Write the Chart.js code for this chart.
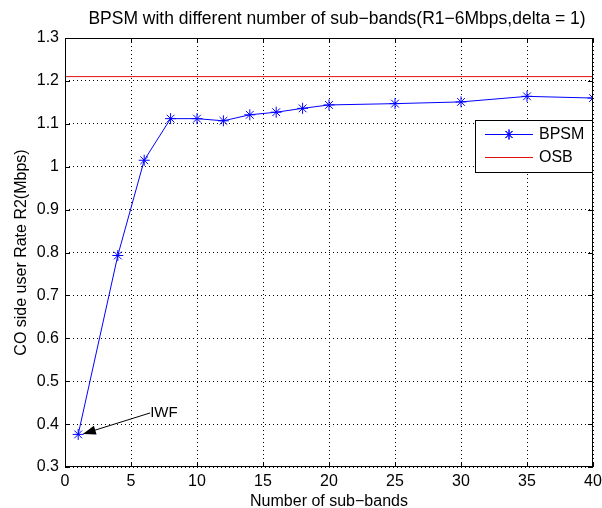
<!DOCTYPE html>
<html>
<head>
<meta charset="utf-8">
<script src="https://cdn.jsdelivr.net/npm/chart.js@4/dist/chart.umd.min.js"></script>
<style>
  html, body { margin: 0; padding: 0; background: #fff; }
  #wrap { width: 602px; height: 508px; }
</style>
</head>
<body>
<div id="wrap"><canvas id="rate-chart" width="602" height="508"></canvas></div>
<script>
const subBands = [1, 4, 6, 8, 10, 12, 14, 16, 18, 20, 25, 30, 35, 40];
const bpsmRate = [0.376, 0.793, 1.015, 1.112, 1.112, 1.107, 1.121, 1.127, 1.136, 1.144, 1.147, 1.151, 1.164, 1.160];
const osbX = [0, 40];
const osbRate = [1.21, 1.21];
const xTicks = [0, 5, 10, 15, 20, 25, 30, 35, 40];
const yTicks = [0.3, 0.4, 0.5, 0.6, 0.7, 0.8, 0.9, 1, 1.1, 1.2, 1.3];

const FONT = '"Liberation Sans", Arial, Helvetica, sans-serif';
Chart.defaults.font.family = FONT;
Chart.defaults.color = '#000';

// matlab style frame, inner ticks, title, legend and the IWF arrow
const matlabPlugin = {
    id: 'matlabPlugin',
    afterDraw(chart) {
        const { ctx, chartArea: { left, right, top, bottom }, scales: { x, y } } = chart;
        ctx.save();

        ctx.strokeStyle = '#000';
        ctx.lineWidth = 1;
        ctx.strokeRect(left + 0.5, top + 0.5, right - left - 1, bottom - top - 1);

        ctx.beginPath();
        xTicks.forEach(v => {
            const px = Math.round(x.getPixelForValue(v)) + 0.5;
            ctx.moveTo(px, bottom); ctx.lineTo(px, bottom - 5);
            ctx.moveTo(px, top); ctx.lineTo(px, top + 5);
        });
        yTicks.forEach(v => {
            const py = Math.round(y.getPixelForValue(v)) + 0.5;
            ctx.moveTo(left, py); ctx.lineTo(left + 5, py);
            ctx.moveTo(right, py); ctx.lineTo(right - 5, py);
        });
        ctx.stroke();

        // title
        ctx.fillStyle = '#000';
        ctx.font = '17.5px ' + FONT;
        ctx.textAlign = 'center';
        ctx.textBaseline = 'alphabetic';
        ctx.fillText('BPSM with different number of sub\u2212bands(R1\u22126Mbps,delta = 1)', 337, 24);

        // IWF annotation
        const x0 = x.getPixelForValue(6.45), y0 = y.getPixelForValue(0.426);
        const x1 = x.getPixelForValue(1.35), y1 = y.getPixelForValue(0.377);
        const ang = Math.atan2(y1 - y0, x1 - x0);
        ctx.beginPath();
        ctx.moveTo(x0, y0);
        ctx.lineTo(x1 - 10 * Math.cos(ang), y1 - 10 * Math.sin(ang));
        ctx.stroke();
        ctx.beginPath();
        ctx.moveTo(x1, y1);
        ctx.lineTo(x1 - 13 * Math.cos(ang) + 4.5 * Math.sin(ang), y1 - 13 * Math.sin(ang) - 4.5 * Math.cos(ang));
        ctx.lineTo(x1 - 13 * Math.cos(ang) - 4.5 * Math.sin(ang), y1 - 13 * Math.sin(ang) + 4.5 * Math.cos(ang));
        ctx.closePath();
        ctx.fill();
        ctx.font = '15px ' + FONT;
        ctx.textAlign = 'left';
        ctx.textBaseline = 'middle';
        ctx.fillText('IWF', x0, y0);

        // legend box
        const lx = 475, ly = 120, lw = right - 1 - lx, lh = 52;
        ctx.fillStyle = '#fff';
        ctx.fillRect(lx, ly, lw, lh);
        ctx.strokeStyle = '#000';
        ctx.strokeRect(lx + 0.5, ly + 0.5, lw, lh);
        chart.data.datasets.forEach((ds, i) => {
            const cy = ly + 14 + i * 23;
            ctx.strokeStyle = ds.borderColor;
            ctx.beginPath();
            ctx.moveTo(lx + 10, cy + 0.5); ctx.lineTo(lx + 58, cy + 0.5);
            ctx.stroke();
            if (ds.pointStyle === 'star') {
                Chart.helpers.drawPoint(ctx, { pointStyle: 'star', radius: 5, borderWidth: 1 }, lx + 34, cy + 0.5);
                ctx.strokeStyle = ds.borderColor;
                ctx.stroke();
            }
            ctx.fillStyle = '#000';
            ctx.font = '16px ' + FONT;
            ctx.fillText(ds.label, lx + 64, cy + 1);
        });

        ctx.restore();
    }
};

const ctx = document.getElementById('rate-chart').getContext('2d');

new Chart(ctx, {
    type: 'line',
    data: {
        datasets: [{
            label: 'BPSM',
            data: subBands.map((v, i) => ({ x: v, y: bpsmRate[i] })),
            borderColor: '#0000ff',
            backgroundColor: '#0000ff',
            borderWidth: 1,
            pointStyle: 'star',
            pointRadius: 5.5,
            pointBorderWidth: 1,
            pointBorderColor: '#0000ff',
            tension: 0
        }, {
            label: 'OSB',
            data: osbX.map((v, i) => ({ x: v, y: osbRate[i] })),
            borderColor: '#e01010',
            borderWidth: 1,
            pointRadius: 0,
            tension: 0
        }]
    },
    options: {
        responsive: false,
        animation: false,
        layout: { padding: { top: 38, right: 9, left: 0, bottom: 0 } },
        plugins: {
            legend: { display: false },
            title: { display: false },
            tooltip: { enabled: false }
        },
        scales: {
            x: {
                type: 'linear',
                min: 0,
                max: 40,
                afterBuildTicks: axis => { axis.ticks = xTicks.map(v => ({ value: v })); },
                afterFit: axis => { axis.height = 41; axis.paddingLeft = 0; axis.paddingRight = 0; },
                grid: { color: '#000', drawTicks: false, lineWidth: 1 },
                border: { display: false, dash: [1, 3] },
                ticks: { font: { size: 16 }, padding: 5, maxRotation: 0 },
                title: { display: true, text: 'Number of sub\u2212bands', font: { size: 16, lineHeight: 1 }, padding: { top: 0, bottom: -2 } }
            },
            y: {
                min: 0.3,
                max: 1.3,
                afterBuildTicks: axis => { axis.ticks = yTicks.map(v => ({ value: v })); },
                afterFit: axis => { axis.width = 65; },
                grid: { color: '#000', drawTicks: false, lineWidth: 1 },
                border: { display: false, dash: [1, 3] },
                ticks: { font: { size: 16 }, padding: 6, callback: v => String(parseFloat(v.toFixed(2))) },
                title: { display: true, text: 'CO side user Rate R2(Mbps)', font: { size: 16 }, padding: { top: 12, bottom: 0 } }
            }
        }
    },
    plugins: [matlabPlugin]
});
</script>
</body>
</html>
